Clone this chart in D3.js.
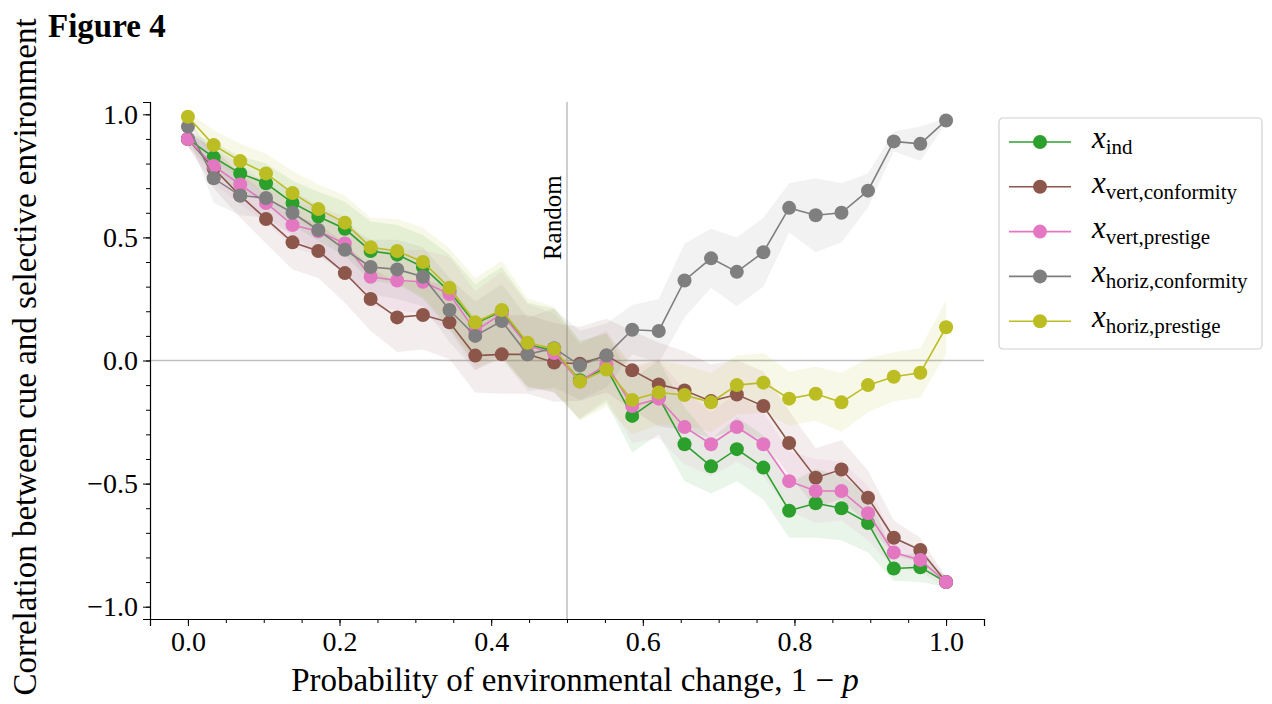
<!DOCTYPE html>
<html>
<head>
<meta charset="utf-8">
<script src="https://cdn.jsdelivr.net/npm/d3@7"></script>
<style>
body { margin: 0; background: #fff; }
text { font-family: "Liberation Serif", "DejaVu Serif", serif; fill: #000; }
</style>
</head>
<body>
<svg id="chart" width="1272" height="704"></svg>
<script>
// Figure 4 - correlation between cue and selective environment vs 1 - p
const probChange = [0.000, 0.034, 0.069, 0.103, 0.138, 0.172, 0.207, 0.241, 0.276, 0.310,
    0.345, 0.379, 0.414, 0.448, 0.483, 0.517, 0.552, 0.586, 0.621, 0.655,
    0.690, 0.724, 0.759, 0.793, 0.828, 0.862, 0.897, 0.931, 0.966, 1.000];

const xInd = [0.90, 0.825, 0.76, 0.72, 0.64, 0.585, 0.535, 0.445, 0.43, 0.38,
    0.28, 0.15, 0.20, 0.065, 0.04, -0.08, -0.03, -0.225, -0.15, -0.34,
    -0.43, -0.36, -0.435, -0.61, -0.58, -0.60, -0.66, -0.845, -0.84, -0.90];
const xIndCi = [0.03, 0.06, 0.07, 0.08, 0.09, 0.10, 0.11, 0.12, 0.12, 0.13,
    0.15, 0.16, 0.18, 0.17, 0.17, 0.16, 0.14, 0.15, 0.15, 0.15,
    0.11, 0.13, 0.13, 0.11, 0.14, 0.13, 0.12, 0.05, 0.06, 0.02];

const xVertConf = [0.90, 0.78, 0.67, 0.575, 0.48, 0.445, 0.355, 0.25, 0.175, 0.185,
    0.155, 0.02, 0.025, 0.025, -0.008, -0.013, 0.02, -0.04, -0.097, -0.122,
    -0.165, -0.138, -0.185, -0.335, -0.476, -0.443, -0.557, -0.72, -0.77, -0.90];
const xVertConfCi = [0.03, 0.08, 0.09, 0.10, 0.11, 0.11, 0.12, 0.13, 0.14, 0.14,
    0.15, 0.15, 0.16, 0.16, 0.16, 0.15, 0.15, 0.16, 0.17, 0.16,
    0.15, 0.14, 0.14, 0.13, 0.12, 0.12, 0.11, 0.07, 0.05, 0.02];

const xVertPres = [0.90, 0.79, 0.715, 0.64, 0.55, 0.525, 0.475, 0.34, 0.325, 0.32,
    0.27, 0.12, 0.19, 0.06, 0.03, -0.085, -0.016, -0.185, -0.155, -0.27,
    -0.34, -0.27, -0.34, -0.49, -0.53, -0.53, -0.62, -0.78, -0.81, -0.90];
const xVertPresCi = [0.03, 0.07, 0.08, 0.08, 0.09, 0.10, 0.11, 0.12, 0.12, 0.13,
    0.15, 0.16, 0.17, 0.17, 0.16, 0.15, 0.14, 0.15, 0.16, 0.15,
    0.13, 0.14, 0.13, 0.12, 0.13, 0.12, 0.11, 0.06, 0.05, 0.02];

const xHorizConf = [0.95, 0.74, 0.67, 0.66, 0.60, 0.53, 0.45, 0.38, 0.37, 0.34,
    0.205, 0.10, 0.16, 0.025, 0.05, -0.02, 0.02, 0.125, 0.12, 0.325,
    0.415, 0.36, 0.44, 0.62, 0.59, 0.60, 0.69, 0.89, 0.88, 0.975];
const xHorizConfCi = [0.03, 0.10, 0.08, 0.08, 0.09, 0.10, 0.10, 0.11, 0.12, 0.12,
    0.13, 0.14, 0.15, 0.15, 0.16, 0.14, 0.13, 0.10, 0.13, 0.15,
    0.12, 0.14, 0.14, 0.10, 0.15, 0.12, 0.07, 0.04, 0.07, 0.01];

const xHorizPres = [0.99, 0.875, 0.81, 0.76, 0.68, 0.615, 0.56, 0.46, 0.445, 0.40,
    0.295, 0.155, 0.205, 0.072, 0.048, -0.085, -0.037, -0.16, -0.13, -0.14,
    -0.17, -0.10, -0.09, -0.155, -0.135, -0.17, -0.10, -0.066, -0.05, 0.135];
const xHorizPresCi = [0.02, 0.06, 0.07, 0.08, 0.09, 0.10, 0.11, 0.12, 0.13, 0.14,
    0.16, 0.18, 0.20, 0.18, 0.17, 0.16, 0.15, 0.14, 0.13, 0.12,
    0.12, 0.12, 0.12, 0.11, 0.11, 0.12, 0.11, 0.10, 0.10, 0.11];

const seriesNames = ["ind", "vert,conformity", "vert,prestige", "horiz,conformity", "horiz,prestige"];
const seriesColors = ["#2ca02c", "#8c564b", "#e377c2", "#7f7f7f", "#bcbd22"];
const xTicks = [0, 0.2, 0.4, 0.6, 0.8, 1.0];
const yTicks = [-1, -0.5, 0, 0.5, 1];

const series = [
    { values: xInd, ci: xIndCi },
    { values: xVertConf, ci: xVertConfCi },
    { values: xVertPres, ci: xVertPresCi },
    { values: xHorizConf, ci: xHorizConfCi },
    { values: xHorizPres, ci: xHorizPresCi }
].map((s, k) => ({
    name: seriesNames[k],
    color: seriesColors[k],
    points: probChange.map((p, i) => ({ x: p, y: s.values[i], lo: s.values[i] - s.ci[i], hi: s.values[i] + s.ci[i] }))
}));

const plot = { left: 150, right: 984, top: 102, bottom: 619 };
const svg = d3.select("#chart");

const x = d3.scaleLinear().domain([-0.05, 1.05]).range([plot.left, plot.right]);
const y = d3.scaleLinear().domain([-1.05, 1.05]).range([plot.bottom, plot.top]);

// reference lines
svg.append("line")
    .attr("x1", x(0.5)).attr("x2", x(0.5))
    .attr("y1", plot.top).attr("y2", plot.bottom)
    .attr("stroke", "#bfbfbf").attr("stroke-width", 1.5);
svg.append("line")
    .attr("x1", plot.left).attr("x2", plot.right)
    .attr("y1", y(0)).attr("y2", y(0))
    .attr("stroke", "#bfbfbf").attr("stroke-width", 1.5);

svg.append("text")
    .attr("transform", `translate(${x(0.5) - 6},${y(0.58)}) rotate(-90)`)
    .attr("text-anchor", "middle")
    .attr("font-size", 25)
    .text("Random");

// confidence bands
const area = d3.area()
    .x(d => x(d.x))
    .y0(d => y(d.lo))
    .y1(d => y(d.hi));

svg.selectAll(".band")
    .data(series)
    .enter()
    .append("path")
    .attr("class", "band")
    .attr("d", d => area(d.points))
    .attr("fill", d => d.color)
    .attr("fill-opacity", 0.1);

// lines + markers
const line = d3.line().x(d => x(d.x)).y(d => y(d.y));

series.forEach(s => {
    const g = svg.append("g");
    g.append("path")
        .attr("d", line(s.points))
        .attr("fill", "none")
        .attr("stroke", s.color)
        .attr("stroke-width", 1.6);
    g.selectAll("circle")
        .data(s.points)
        .enter()
        .append("circle")
        .attr("cx", d => x(d.x))
        .attr("cy", d => y(d.y))
        .attr("r", 7)
        .attr("fill", s.color);
});

// axes
const fmt = d => d3.format(".1f")(d).replace("-", "\u2212");

const xAxis = svg.append("g")
    .attr("transform", `translate(0,${plot.bottom})`)
    .call(d3.axisBottom(x).tickValues(xTicks).tickFormat(fmt).tickSize(7).tickPadding(5));
svg.append("g")
    .attr("transform", `translate(0,${plot.bottom})`)
    .call(d3.axisBottom(x).tickValues(d3.range(0, 1.001, 0.05)).tickFormat("").tickSize(4))
    .select(".domain").remove();

const yAxis = svg.append("g")
    .attr("transform", `translate(${plot.left},0)`)
    .call(d3.axisLeft(y).tickValues(yTicks).tickFormat(fmt).tickSize(7).tickPadding(5));
svg.append("g")
    .attr("transform", `translate(${plot.left},0)`)
    .call(d3.axisLeft(y).tickValues(d3.range(-1, 1.001, 0.1)).tickFormat("").tickSize(4))
    .select(".domain").remove();

[xAxis, yAxis].forEach(a => {
    a.select(".domain").attr("stroke", "#000").attr("stroke-width", 1.2);
    a.selectAll("text").attr("font-size", 28).attr("fill", "#000")
        .style("font-family", "'Liberation Serif', serif");
});

// axis labels
svg.append("text")
    .attr("x", x(0.5) + 8)
    .attr("y", 691)
    .attr("text-anchor", "middle")
    .attr("font-size", 33)
    .html('Probability of environmental change, 1 \u2212 <tspan font-style="italic">p</tspan>');

svg.append("text")
    .attr("transform", `translate(36,357) rotate(-90)`)
    .attr("text-anchor", "middle")
    .attr("font-size", 33)
    .text("Correlation between cue and selective environment");

svg.append("text")
    .attr("x", 48).attr("y", 37)
    .attr("font-size", 33)
    .attr("font-weight", "bold")
    .text("Figure 4");

// legend
const legend = svg.append("g").attr("transform", "translate(999,118)");
legend.append("rect")
    .attr("width", 263).attr("height", 231)
    .attr("rx", 4)
    .attr("fill", "#fff")
    .attr("stroke", "#d0d0d0")
    .attr("stroke-width", 1.2);

series.forEach((s, i) => {
    const ly = 24 + i * 44.8;
    const row = legend.append("g").attr("transform", `translate(0,${ly})`);
    row.append("line")
        .attr("x1", 10).attr("x2", 72)
        .attr("stroke", s.color).attr("stroke-width", 1.6);
    row.append("circle").attr("cx", 41).attr("r", 7).attr("fill", s.color);
    const t = row.append("text").attr("x", 93).attr("y", 6);
    t.append("tspan").attr("font-style", "italic").attr("font-size", 31).text("x");
    t.append("tspan").attr("font-size", 21).attr("dy", 6).text(s.name);
});
</script>
</body>
</html>
